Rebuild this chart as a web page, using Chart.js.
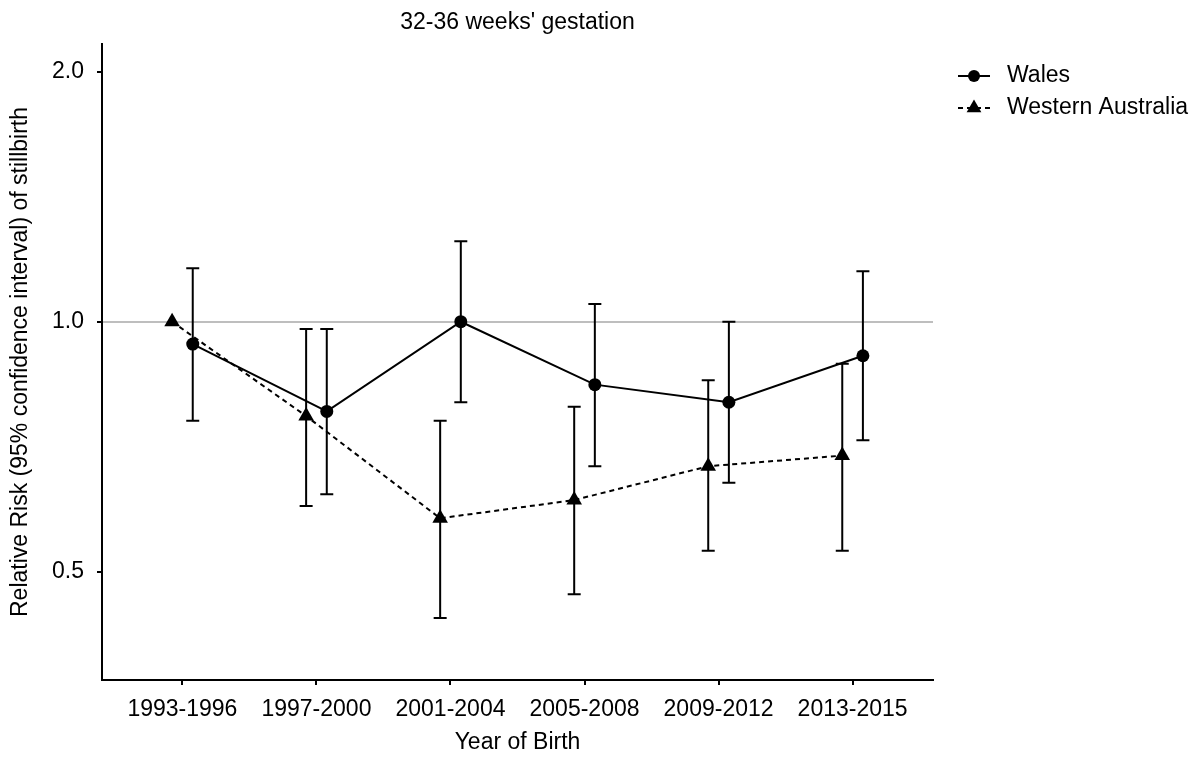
<!DOCTYPE html>
<html>
<head>
<meta charset="utf-8">
<script src="https://cdn.jsdelivr.net/npm/chart.js@4.4.1/dist/chart.umd.min.js"></script>
<style>
  html, body { margin: 0; padding: 0; background: #fff; }
  #wrap { width: 1202px; height: 758px; }
</style>
</head>
<body>
<div id="wrap"><canvas id="chartRR" width="1202" height="758"></canvas></div>
<script>
// ── DATA ──
const periods = ['1993-1996','1997-2000','2001-2004','2005-2008','2009-2012','2013-2015'];
const walesRR = [0.94, 0.78, 1.00, 0.84, 0.80, 0.91];
const walesLo = [0.76, 0.62, 0.80, 0.67, 0.64, 0.72];
const walesHi = [1.16, 0.98, 1.25, 1.05, 1.00, 1.15];
const waRR    = [1.00, 0.77, 0.58, 0.61, 0.67, 0.69];
const waLo    = [null, 0.60, 0.44, 0.47, 0.53, 0.53];
const waHi    = [null, 0.98, 0.76, 0.79, 0.85, 0.89];
const yTicks  = [0.5, 1.0, 2.0];

// ── STYLE ──
const FONT  = "'Liberation Sans', Arial, sans-serif";
const DODGE = 0.077;   // horizontal dodge between the two series (category units)
const CAP   = 6.5;     // half width of error bar caps, px

const pts = (vals, shift) => vals.map((v, i) => ({ x: i + shift, y: v }));

// error bars drawn from the dataset's lo/hi arrays through the scales
const errorBars = {
  id: 'errorBars',
  beforeDatasetsDraw(chart) {
    const { ctx, scales: { x, y } } = chart;
    chart.data.datasets.forEach(ds => {
      ctx.save();
      ctx.strokeStyle = '#000';
      ctx.lineWidth = 2;
      ds.data.forEach((p, i) => {
        if (ds.lo[i] == null) return;
        const px  = x.getPixelForValue(p.x);
        const top = y.getPixelForValue(ds.hi[i]);
        const bot = y.getPixelForValue(ds.lo[i]);
        ctx.beginPath();
        ctx.moveTo(px, top); ctx.lineTo(px, bot);
        ctx.moveTo(px - CAP, top); ctx.lineTo(px + CAP, top);
        ctx.moveTo(px - CAP, bot); ctx.lineTo(px + CAP, bot);
        ctx.stroke();
      });
      ctx.restore();
    });
  }
};

// legend on the right, outside the plot panel
const sideLegend = {
  id: 'sideLegend',
  afterDraw(chart) {
    const { ctx, chartArea } = chart;
    const x0 = chartArea.right + 25, y0 = 76, step = 32;
    chart.data.datasets.forEach((ds, i) => {
      const cy = y0 + i * step;
      ctx.save();
      ctx.strokeStyle = '#000';
      ctx.lineWidth = 2;
      ctx.setLineDash(ds.borderDash || []);
      ctx.beginPath(); ctx.moveTo(x0, cy); ctx.lineTo(x0 + 32, cy); ctx.stroke();
      ctx.setLineDash([]);
      ctx.fillStyle = '#000';
      Chart.helpers.drawPoint(ctx, {
        pointStyle: ds.pointStyle, radius: ds.pointRadius - 0.5, borderWidth: 0, rotation: 0
      }, x0 + 16, cy);
      ctx.font = '23px ' + FONT;
      ctx.textBaseline = 'middle';
      ctx.fillText(ds.label, x0 + 49, cy);
      ctx.restore();
    });
  }
};

new Chart(document.getElementById('chartRR'), {
  type: 'line',
  data: {
    datasets: [
      { label: 'Wales', data: pts(walesRR, DODGE), lo: walesLo, hi: walesHi,
        borderColor: '#000', backgroundColor: '#000', borderWidth: 2,
        pointStyle: 'circle', pointRadius: 6.5, pointBorderWidth: 0 },
      { label: 'Western Australia', data: pts(waRR, -DODGE), lo: waLo, hi: waHi,
        borderColor: '#000', backgroundColor: '#000', borderWidth: 2, borderDash: [5, 4],
        pointStyle: 'triangle', pointRadius: 9, pointBorderWidth: 0 }
    ]
  },
  options: {
    responsive: false, animation: false,
    layout: { padding: { left: 0, top: 0, bottom: 0, right: 269 } },
    plugins: {
      legend: { display: false },
      tooltip: { enabled: false },
      title: {
        display: true, text: "32-36 weeks' gestation", fullSize: false,
        color: '#000', font: { family: FONT, size: 23, weight: 'normal' },
        padding: { top: 9, bottom: 7.4 }
      }
    },
    scales: {
      x: {
        type: 'linear', min: -0.6, max: 5.6,
        afterBuildTicks: s => { s.ticks = periods.map((_, i) => ({ value: i })); },
        afterFit: s => { s.height = 78; },
        ticks: { color: '#000', font: { family: FONT, size: 23 }, padding: 11,
                 callback: v => periods[v] },
        grid: { drawOnChartArea: false, tickLength: 5, lineWidth: 2, color: '#000' },
        border: { color: '#000', width: 2 },
        title: { display: true, text: 'Year of Birth', color: '#000',
                 font: { family: FONT, size: 23 }, padding: { top: 0, bottom: 2 } }
      },
      y: {
        type: 'logarithmic', min: 0.3705, max: 2.159,
        afterBuildTicks: s => { s.ticks = yTicks.map(v => ({ value: v })); },
        afterFit: s => { s.width = 102; },
        ticks: { color: '#000', font: { family: FONT, size: 23 }, padding: 13,
                 callback: v => Number(v).toFixed(1) },
        grid: { drawOnChartArea: true, tickLength: 5, lineWidth: 2,
                color: c => (c.tick && c.tick.value === 1) ? '#bebebe' : 'rgba(0,0,0,0)',
                tickColor: '#000' },
        border: { color: '#000', width: 2 },
        title: { display: true, text: 'Relative Risk (95% confidence interval) of stillbirth',
                 color: '#000', font: { family: FONT, size: 23 }, padding: { top: 6.5, bottom: 0 } }
      }
    }
  },
  plugins: [errorBars, sideLegend]
});
</script>
</body>
</html>
